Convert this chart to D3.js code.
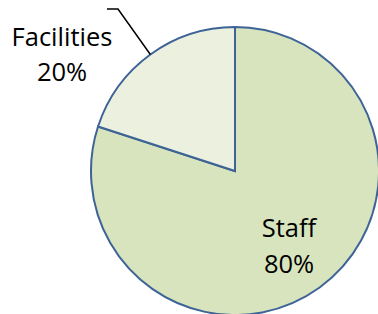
<!DOCTYPE html>
<html>
<head>
<meta charset="utf-8">
<script src="https://cdn.jsdelivr.net/npm/d3@7"></script>
<style>
  body { margin: 0; background: #fff; }
  text { font-family: "Open Sans", sans-serif; fill: #000; }
</style>
</head>
<body>
<div id="chart"></div>
<script>
// data
var categories = ["Staff", "Facilities"];
var values = [80, 20];
var colors = ["#d7e4bd", "#ebf1de"];

var w = 378, h = 314,
    cx = 235, cy = 171, r = 144;

var svg = d3.select('#chart')
    .append('svg')
    .attr('width', w)
    .attr('height', h);

var data = categories.map(function (c, i) {
    return { name: c, value: values[i], color: colors[i] };
});

// first slice starts at 12 o'clock going clockwise
var pie = d3.pie()
    .sort(null)
    .value(function (d) { return d.value; });

var arc = d3.arc().innerRadius(0).outerRadius(r);

var g = svg.append('g')
    .attr("transform", `translate(${cx},${cy})`);

var arcs = pie(data);

g.selectAll('path')
    .data(arcs)
    .enter()
    .append('path')
    .attr('d', arc)
    .attr('fill', function (d) { return d.data.color; })
    .attr('stroke', '#3e6397')
    .attr('stroke-width', 2)
    .attr('stroke-linejoin', 'miter');

// Staff label inside the slice
var staff = arcs[0];

var staffLabel = g.append('text')
    .attr('text-anchor', 'middle')
    .style('font-size', '25.5px');
staffLabel.append('tspan').attr('x', 289 - cx).attr('y', 237 - cy).text(staff.data.name);
staffLabel.append('tspan').attr('x', 289 - cx).attr('y', 273 - cy).text(staff.data.value + '%');

// Facilities label outside with leader line
var fac = arcs[1];
var mid = (fac.startAngle + fac.endAngle) / 2;
var edge = [Math.sin(mid) * r, -Math.cos(mid) * r];

g.append('polyline')
    .attr('points', [[edge[0], edge[1]], [118 - cx, 9 - cy], [107 - cx, 9 - cy]].map(function (p) { return p.join(','); }).join(' '))
    .attr('fill', 'none')
    .attr('stroke', '#000')
    .attr('stroke-width', 1.5);

var facLabel = g.append('text')
    .attr('text-anchor', 'middle')
    .style('font-size', '25.5px');
facLabel.append('tspan').attr('x', 62 - cx).attr('y', 46 - cy).text(fac.data.name);
facLabel.append('tspan').attr('x', 62 - cx).attr('y', 81 - cy).text(fac.data.value + '%');
</script>
</body>
</html>
